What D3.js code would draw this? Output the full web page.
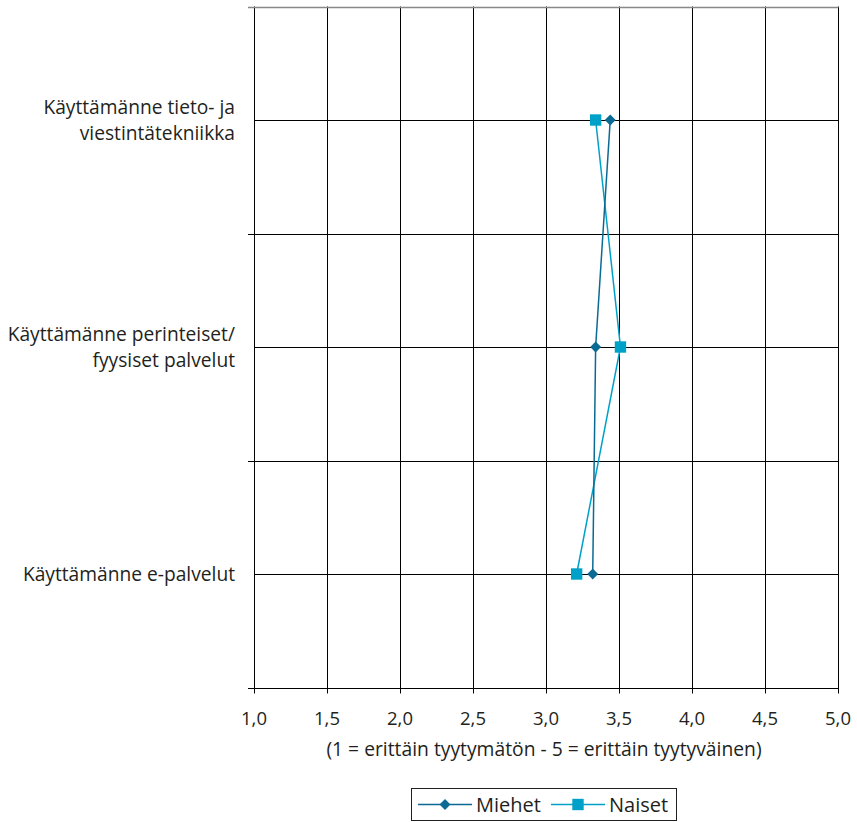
<!DOCTYPE html>
<html>
<head>
<meta charset="utf-8">
<script src="https://cdn.jsdelivr.net/npm/d3@7"></script>
<style>
  html, body { margin: 0; padding: 0; background: #fff; }
  svg text { font-family: 'Open Sans', sans-serif; fill: #231f20; }
</style>
</head>
<body>
<div id="chart"></div>
<script>
// ── Data ──
var categories = [
  ['Käyttämänne tieto- ja', 'viestintätekniikka'],
  ['Käyttämänne perinteiset/', 'fyysiset palvelut'],
  ['Käyttämänne e-palvelut']
];
var miehet = [3.44, 3.34, 3.32];
var naiset = [3.34, 3.51, 3.21];
var xTicks = [1.0, 1.5, 2.0, 2.5, 3.0, 3.5, 4.0, 4.5, 5.0];
var seriesNames = ['Miehet', 'Naiset'];

// ── Layout ──
var WIDTH = 857, HEIGHT = 822;
var PLOT = { left: 254, right: 838, top: 6.5, bottom: 687.5 };
var COLOR_M = '#0b6a93';
var COLOR_N = '#00a1c9';

var svg = d3.select('#chart').append('svg')
  .attr('width', WIDTH).attr('height', HEIGHT);

var x = d3.scaleLinear().domain([1, 5]).range([PLOT.left, PLOT.right]);
var keys = d3.range(categories.length);
var y = d3.scalePoint().domain(keys).range([PLOT.top, PLOT.bottom]).padding(0.5);
var yBand = d3.scaleBand().domain(keys).range([PLOT.top, PLOT.bottom]);

// Vertical gridlines + bottom ticks
svg.append('g').selectAll('line')
  .data(xTicks).join('line')
  .attr('x1', function (d) { return Math.round(x(d)) + 0.5; })
  .attr('x2', function (d) { return Math.round(x(d)) + 0.5; })
  .attr('y1', PLOT.top).attr('y2', PLOT.bottom + 6)
  .attr('stroke', '#000').attr('stroke-width', 1);

// Horizontal lines: band separators (with left ticks)
var bounds = keys.map(function (k) { return yBand(k); }).concat([PLOT.bottom]);
svg.append('g').selectAll('line')
  .data(bounds).join('line')
  .attr('x1', PLOT.left - 6).attr('x2', PLOT.right + 0.5)
  .attr('y1', function (d) { return Math.round(d) + 0.5; })
  .attr('y2', function (d) { return Math.round(d) + 0.5; })
  .attr('stroke', function (d, i) { return i === 0 ? '#888' : '#000'; })
  .attr('stroke-width', function (d, i) { return i === 0 ? 1.5 : 1; });

// Category lines
svg.append('g').selectAll('line')
  .data(keys).join('line')
  .attr('x1', PLOT.left).attr('x2', PLOT.right + 0.5)
  .attr('y1', function (d) { return Math.round(y(d)) + 0.5; })
  .attr('y2', function (d) { return Math.round(y(d)) + 0.5; })
  .attr('stroke', '#000').attr('stroke-width', 1);

// X tick labels
svg.append('g').selectAll('text')
  .data(xTicks).join('text')
  .attr('x', function (d) { return x(d); })
  .attr('y', 725)
  .attr('text-anchor', 'middle')
  .attr('font-size', 18.5)
  .text(function (d) { return d.toFixed(1).replace('.', ','); });

// X axis title
svg.append('text')
  .attr('x', 544).attr('y', 756)
  .attr('text-anchor', 'middle')
  .attr('font-size', 19.3)
  .text('(1 = erittäin tyytymätön - 5 = erittäin tyytyväinen)');

// Category labels
svg.append('g').selectAll('text')
  .data(keys).join('text')
  .attr('text-anchor', 'end')
  .attr('font-size', 19.2)
  .each(function (k) {
    var lines = categories[k];
    var t = d3.select(this);
    var lh = 26;
    var y0 = y(k) - (lines.length - 1) * lh / 2 + 7;
    lines.forEach(function (l, i) {
      t.append('tspan').attr('x', 235).attr('y', y0 + i * lh).text(l);
    });
  });

// Series
var line = d3.line()
  .x(function (d) { return x(d.v); })
  .y(function (d) { return y(d.k); });

function toPts(arr) { return arr.map(function (v, k) { return { v: v, k: k }; }); }

var diamond = d3.symbol().type(d3.symbolDiamond2).size(76);
var square = d3.symbol().type(d3.symbolSquare2).size(165);

svg.append('path').datum(toPts(naiset))
  .attr('d', line).attr('fill', 'none')
  .attr('stroke', COLOR_N).attr('stroke-width', 1.5);
svg.append('path').datum(toPts(miehet))
  .attr('d', line).attr('fill', 'none')
  .attr('stroke', COLOR_M).attr('stroke-width', 1.5);

svg.append('g').selectAll('path')
  .data(toPts(miehet)).join('path')
  .attr('transform', function (d) { return 'translate(' + x(d.v) + ',' + y(d.k) + ')'; })
  .attr('d', diamond).attr('fill', COLOR_M);

svg.append('g').selectAll('path')
  .data(toPts(naiset)).join('path')
  .attr('transform', function (d) { return 'translate(' + x(d.v) + ',' + y(d.k) + ')'; })
  .attr('d', square).attr('fill', COLOR_N);

// Legend
var legend = svg.append('g');
legend.append('rect')
  .attr('x', 411.5).attr('y', 788.5).attr('width', 265).attr('height', 32)
  .attr('fill', 'none').attr('stroke', '#231f20').attr('stroke-width', 1);

var legendItems = [
  { name: seriesNames[0], color: COLOR_M, sym: diamond, x: 418 },
  { name: seriesNames[1], color: COLOR_N, sym: square, x: 551 }
];
legendItems.forEach(function (it) {
  legend.append('line')
    .attr('x1', it.x).attr('x2', it.x + 54)
    .attr('y1', 804.5).attr('y2', 804.5)
    .attr('stroke', it.color).attr('stroke-width', 1.5);
  legend.append('path')
    .attr('transform', 'translate(' + (it.x + 27) + ',804.5)')
    .attr('d', it.sym).attr('fill', it.color);
  legend.append('text')
    .attr('x', it.x + 58).attr('y', 812)
    .attr('font-size', 20)
    .text(it.name);
});
</script>
</body>
</html>
